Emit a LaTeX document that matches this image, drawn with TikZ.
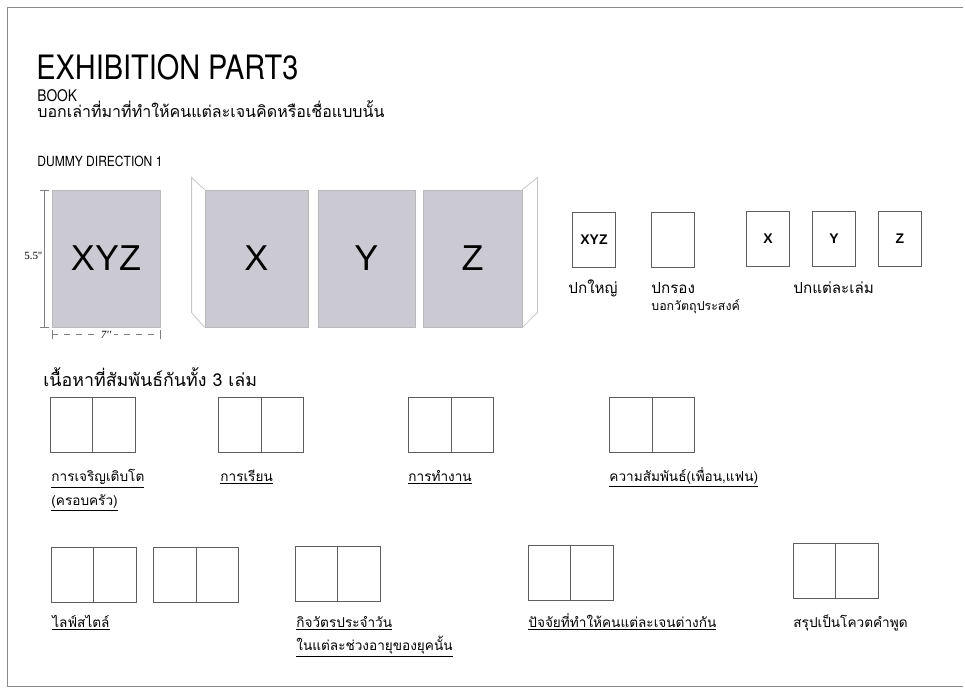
\documentclass[tikz,border=0pt]{standalone}
\usepackage{fontspec}
\setmainfont{TeX Gyre Heros}[FakeStretch=0.86]
\newfontfamily\thaifont[Script=Thai]{Loma}
\newfontfamily\arialfont{Liberation Sans}
\newfontfamily\timesfont{Liberation Serif}
\usepackage{xcolor}
\usepackage{tikz}
\usetikzlibrary{positioning}
\definecolor{panelgray}{HTML}{CBCAD2}
\definecolor{linegray}{HTML}{5E5E5E}
\definecolor{framegray}{HTML}{8A8A8A}

\begin{document}
\begin{tikzpicture}[x=0.5pt, y=-0.5pt, every node/.style={inner sep=0pt}]
  \tikzstyle{panel} = [rectangle, draw=gray!55, fill=panelgray, minimum height=68.5pt, font=\arialfont\fontsize{18}{18}\selectfont]
  \tikzstyle{cover} = [rectangle, draw=linegray, minimum width=21.5pt, minimum height=27.5pt, font=\arialfont\bfseries\fontsize{7}{7}\selectfont]
  \tikzstyle{spread} = [rectangle, draw=linegray, minimum width=42.5pt, minimum height=27.5pt]
  \tikzstyle{caption} = [anchor=base west, font=\thaifont\fontsize{6.8}{8}\selectfont]
  \tikzstyle{dimline} = [draw=gray, very thin]
  \useasboundingbox (0,0) rectangle (965,691);

  % Frame
  \draw[framegray, thin] (963,7) -- (7,7) -- (7,686) -- (963,686);

  % Title
  \node[anchor=base west, font=\fontsize{16.8}{19}\selectfont] (title) at (36,79) {EXHIBITION PART3};
  \node[anchor=base west, font=\fontsize{8}{9}\selectfont] (book) at (37,101) {BOOK};
  \node[anchor=base west, font=\thaifont\fontsize{8}{10}\selectfont] (about) at (37,117) {บอกเล่าที่มาที่ทำให้คนแต่ละเจนคิดหรือเชื่อแบบนั้น};
  \node[anchor=base west, font=\fontsize{7}{8}\selectfont] (dummy) at (37,166) {DUMMY DIRECTION 1};

  % Closed book
  \node[panel, minimum width=54pt] (xyz) at (106,258.5) {XYZ};
  \draw[dimline, |-|] ([xshift=-3.5pt]xyz.north west) -- ([xshift=-3.5pt]xyz.south west);
  \node[anchor=east, font=\timesfont\fontsize{5.5}{6}\selectfont] (tall) at ([xshift=-4.5pt,yshift=1.5pt]xyz.west) {5.5''};
  \draw[dimline, dashed, |-|] ([yshift=-3.5pt]xyz.south west) -- ([yshift=-3.5pt]xyz.south east)
    node[midway, fill=white, inner xsep=1.5pt, font=\timesfont\itshape\fontsize{5.5}{6}\selectfont] (wide) {7''};

  % Open book
  \node[panel, minimum width=51.5pt] (px) at (256.5,258.5) {X};
  \node[panel, minimum width=48.5pt] (py) at (366.5,258.5) {Y};
  \node[panel, minimum width=49.5pt] (pz) at (472.5,258.5) {Z};
  \draw[gray!45, thin] (px.north west) -- ++(-13,-12) -- ++(0,135) -- (px.south west);
  \draw[gray!45, thin] (pz.north east) -- ++(15,-12) -- ++(0,135) -- (pz.south east);

  % Covers
  \node[cover] (cxyz) at (594,240) {XYZ};
  \node[cover] (csub) at (673,240) {};
  \node[cover] (cx) at (768,239) {X};
  \node[cover] (cy) at (834,239) {Y};
  \node[cover] (cz) at (900,239) {Z};
  \node[caption, font=\thaifont\fontsize{7.6}{9}\selectfont] (lbig) at (568,293) {ปกใหญ่};
  \node[caption, font=\thaifont\fontsize{7.6}{9}\selectfont] (lsub) at (651,293) {ปกรอง};
  \node[caption, font=\thaifont\fontsize{6.2}{7}\selectfont] (lgoal) at (651,310) {บอกวัตถุประสงค์};
  \node[caption, font=\thaifont\fontsize{7.6}{9}\selectfont] (leach) at (793,293) {ปกแต่ละเล่ม};

  % Content
  \node[anchor=base west, font=\thaifont\fontsize{8.9}{10}\selectfont] (content) at (43,386) {เนื้อหาที่สัมพันธ์กันทั้ง 3 เล่ม};
  \node[spread] (grow) at (92.5,424.5) {};
  \node[spread] (study) at (261,424.5) {};
  \node[spread] (work) at (451,424.5) {};
  \node[spread] (love) at (652,424.5) {};
  \node[spread] (life1) at (93.5,574.5) {};
  \node[spread] (life2) at (196,574.5) {};
  \node[spread] (daily) at (337.5,574) {};
  \node[spread] (cause) at (570.5,572.5) {};
  \node[spread] (quote) at (835.5,570.5) {};
  \foreach \s in {grow,study,work,love,life1,life2,daily,cause,quote}
    \draw[linegray] (\s.north) -- (\s.south);

  \node[caption] (lgrow) at (51,481) {\underline{การเจริญเติบโต}};
  \node[caption] (lfamily) at (51,505) {\underline{(ครอบครัว)}};
  \node[caption] (lstudy) at (220,481) {\underline{การเรียน}};
  \node[caption] (lwork) at (408,481) {\underline{การทำงาน}};
  \node[caption] (llove) at (609,481) {\underline{ความสัมพันธ์(เพื่อน,แฟน)}};
  \node[caption] (llife) at (52,627) {\underline{ไลฟ์สไตล์}};
  \node[caption] (ldaily) at (296,627) {\underline{กิจวัตรประจำวัน}};
  \node[caption] (lage) at (296,650) {\underline{ในแต่ละช่วงอายุของยุคนั้น}};
  \node[caption] (lcause) at (528,627) {\underline{ปัจจัยที่ทำให้คนแต่ละเจนต่างกัน}};
  \node[caption] (lquote) at (793,627) {สรุปเป็นโควตคำพูด};
\end{tikzpicture}
\end{document}
